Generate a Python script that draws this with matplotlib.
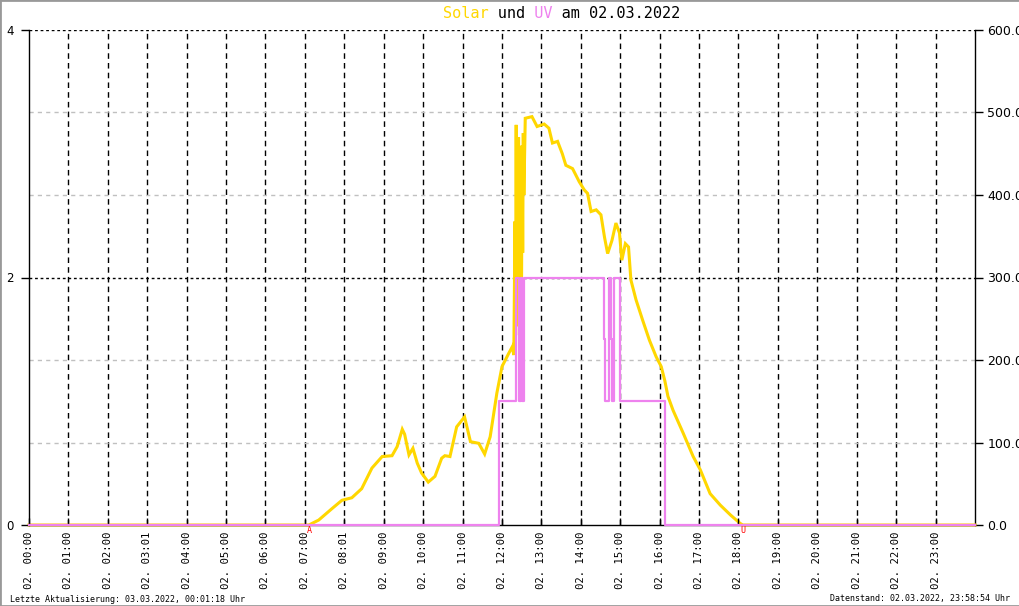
"""Solar und UV am 02.03.2022 - Tagesverlauf (Nachbau)."""
import matplotlib
matplotlib.use("Agg")
import matplotlib.pyplot as plt
from matplotlib.patches import Rectangle
import matplotlib.transforms as mtransforms

# Solarstrahlung (W/m2, rechte Achse), Stunden des Tages
solar_hours = [0, 7.10, 7.35, 7.69, 7.94, 8.19, 8.44, 8.70, 8.96, 9.21, 9.34, 9.47, 9.53,
               9.64, 9.74, 9.85, 9.96, 10.13, 10.30, 10.47, 10.55, 10.68, 10.85, 11.05,
               11.20, 11.41, 11.56, 11.70, 11.87, 12.00, 12.17, 12.26, 12.30,
               12.33, 12.345, 12.36, 12.375, 12.39, 12.405, 12.42, 12.435, 12.45, 12.465,
               12.48, 12.495, 12.51, 12.525, 12.54, 12.555,
               12.59, 12.76, 12.89, 13.07, 13.19, 13.28, 13.41, 13.53, 13.62, 13.79, 13.96,
               14.09, 14.17, 14.26, 14.39, 14.51, 14.60, 14.68, 14.79, 14.89, 14.98, 15.04,
               15.13, 15.21, 15.27, 15.40, 15.57, 15.74, 15.91, 16.04, 16.13, 16.21, 16.34,
               16.60, 16.85, 17.03, 17.28, 17.54, 17.80, 18.04, 18.11, 24.0]
solar_values = [0, 0, 6, 20, 30, 33, 44, 69, 83, 84, 95, 116, 110,
                85, 93, 75, 63, 52, 59, 81, 84, 83, 119, 131,
                101, 99, 86, 107, 160, 192, 208, 216, 206,
                368, 230, 485, 241, 463, 269, 470, 250, 440, 300, 420,
                280, 460, 330, 475, 400,
                493, 495, 483, 486, 481, 463, 465, 450, 436, 432, 416,
                406, 402, 380, 382, 376, 349, 329, 345, 366, 354, 321,
                341, 337, 297, 273, 248, 224, 204, 192, 175, 156, 139,
                111, 83, 67, 38, 24, 12, 2, 0, 0]

# UV-Index (linke Achse), Stufenverlauf
uv_hours = [0, 11.93, 12.36, 12.42, 12.44, 12.47, 12.50, 12.52, 12.55, 14.60, 14.62,
            14.71, 14.76, 14.78, 14.84, 14.99, 16.13, 24.0]
uv_values = [0, 1, 2, 1.5, 1, 2, 1.5, 1, 2, 1.5, 1, 2, 1.5, 1, 2, 1, 0, 0]

tick_hours = list(range(24))
tick_labels = ["02. 00:00", "02. 01:00", "02. 02:00", "02. 03:01", "02. 04:00",
               "02. 05:00", "02. 06:00", "02. 07:00", "02. 08:01", "02. 09:00",
               "02. 10:00", "02. 11:00", "02. 12:00", "02. 13:00", "02. 14:00",
               "02. 15:00", "02. 16:00", "02. 17:00", "02. 18:00", "02. 19:00",
               "02. 20:00", "02. 21:00", "02. 22:00", "02. 23:00"]
solar_ticks = [0, 100, 200, 300, 400, 500, 600]
sunrise, sunset = 7.10, 18.11

SOLAR_COLOR = "#FFD700"
UV_COLOR = "#EE82EE"
MONO = "DejaVu Sans Mono"

fig = plt.figure(figsize=(10.2, 6.06), dpi=100)
ax = fig.add_axes([29 / 1020, 81 / 606, 946 / 1020, 495 / 606])
ax2 = ax.twinx()

# UV auf der linken Achse soll über der Solarkurve liegen
ax.set_zorder(ax2.get_zorder() + 1)
ax.patch.set_visible(False)

ax.set_xlim(0, 24)
ax.set_ylim(0, 4)
ax2.set_ylim(0, 600)

# Gitter
for h in tick_hours[1:]:
    ax2.axvline(h, color="black", lw=1, linestyle=(0, (4, 3)), zorder=1)
for v in [100, 200, 400, 500]:
    ax2.axhline(v, color="#c0c0c0", lw=1, linestyle=(0, (3, 3)), zorder=1)
for v in [300, 600]:
    ax2.axhline(v, color="black", lw=1, linestyle=(0, (2, 2)), zorder=1)

ax2.plot(solar_hours, solar_values, color=SOLAR_COLOR, lw=2.2, zorder=3,
         solid_joinstyle="miter", clip_on=False)
ax.step(uv_hours, uv_values, where="post", color=UV_COLOR, lw=1.6, zorder=4,
        clip_on=False)

# Achsen
for s in ["top", "right"]:
    ax.spines[s].set_visible(False)
for s in ["top", "left", "bottom"]:
    ax2.spines[s].set_visible(False)
ax.spines["left"].set_linewidth(1)
ax.spines["bottom"].set_linewidth(1)
ax2.spines["right"].set_linewidth(1)

ax.set_xticks(tick_hours)
ax.set_xticklabels(tick_labels, rotation=90, family=MONO, fontsize=7.7, va="top")
ax.tick_params(axis="x", direction="in", length=5, width=1, pad=5)
ax.set_yticks([0, 2, 4])
ax.set_yticklabels(["0", "2", "4"], fontsize=8.5)
ax.tick_params(axis="y", direction="out", length=6, width=1, pad=5)
ax2.set_yticks(solar_ticks)
ax2.set_yticklabels([f"{v:.1f}" for v in solar_ticks], fontsize=9)
ax2.tick_params(axis="y", direction="out", length=6, width=1, pad=3)

# Auf-/Untergang
trans = mtransforms.blended_transform_factory(ax.transData, ax.transAxes)
ax.text(sunrise, -0.003, "A", color="red", fontsize=6, family=MONO,
        ha="center", va="top", transform=trans)
ax.text(sunset, -0.003, "U", color="red", fontsize=6, family=MONO,
        ha="center", va="top", transform=trans)

# Titel mehrfarbig (Monospace, gleich lange Strings)
title_x, title_y = 443 / 1020, 1 - 13 / 606
fig.text(title_x, title_y, "Solar", color=SOLAR_COLOR, family=MONO, fontsize=11,
         ha="left", va="center")
fig.text(title_x, title_y, "      und    am 02.03.2022", color="black", family=MONO,
         fontsize=11, ha="left", va="center")
fig.text(title_x, title_y, "          UV", color=UV_COLOR, family=MONO, fontsize=11,
         ha="left", va="center")

fig.text(10 / 1020, 7 / 606, "Letzte Aktualisierung: 03.03.2022, 00:01:18 Uhr",
         family=MONO, fontsize=6, ha="left", va="center")
fig.text(1010 / 1020, 7 / 606, "Datenstand: 02.03.2022, 23:58:54 Uhr",
         family=MONO, fontsize=6, ha="right", va="center")

fig.patches.append(Rectangle((0, 0), 1, 1, transform=fig.transFigure, fill=False,
                             edgecolor="#999999", lw=2))

fig.savefig("out.png", dpi=100)
